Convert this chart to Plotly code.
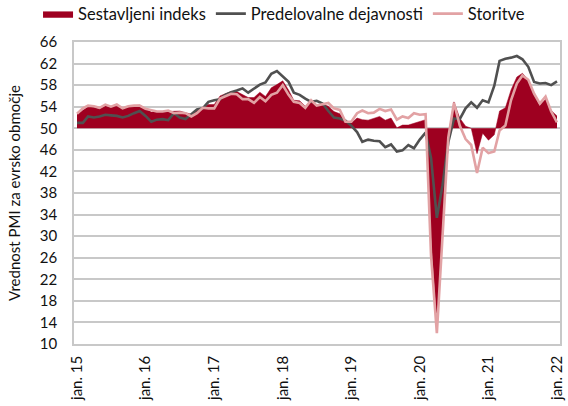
import plotly.graph_objects as go
import pandas as pd

months = pd.date_range("2015-01-01", "2022-01-01", freq="MS").strftime("%Y-%m-%d").tolist()

composite = [
    52.6, 53.3, 54.0, 53.9, 53.6, 54.2, 53.9, 54.3, 53.6, 53.9, 54.2, 54.3,
    53.6, 53.0, 53.1, 53.0, 53.1, 53.1, 53.2, 52.9, 52.6, 53.3, 53.9, 54.4,
    54.4, 56.0, 56.4, 56.8, 56.8, 56.3, 55.7, 55.7, 56.7, 55.9, 57.5, 58.1,
    58.8, 57.1, 55.2, 55.1, 54.1, 54.9, 54.3, 54.5, 54.1, 53.1, 52.7, 51.1,
    51.0, 51.9, 51.6, 51.5, 51.8, 52.2, 51.5, 51.9, 50.1, 50.6, 50.6, 50.9,
    51.3, 51.6, 29.7, 13.6, 31.9, 48.5, 54.9, 51.9, 50.4, 50.0, 45.3, 49.1,
    47.8, 48.8, 53.2, 53.8, 57.1, 59.5, 60.2, 59.0, 56.2, 54.2, 55.4, 53.3,
    52.3,
]
manufacturing = [
    51.0, 51.0, 52.2, 52.0, 52.2, 52.5, 52.4, 52.3, 52.0, 52.3, 52.8, 53.2,
    52.3, 51.2, 51.6, 51.7, 51.5, 52.8, 52.0, 51.7, 52.6, 53.5, 53.7, 54.9,
    55.2, 55.4, 56.2, 56.7, 57.0, 57.4, 56.6, 57.4, 58.1, 58.5, 60.1, 60.6,
    59.6, 58.6, 56.6, 56.2, 55.5, 54.9, 55.1, 54.6, 53.2, 52.0, 51.8, 51.4,
    50.5, 49.3, 47.5, 47.9, 47.7, 47.6, 46.5, 47.0, 45.7, 45.9, 46.9, 46.3,
    47.9, 49.2, 44.5, 33.4, 39.4, 47.4, 51.8, 51.7, 53.7, 54.8, 53.8, 55.2,
    54.8, 57.9, 62.5, 62.9, 63.1, 63.4, 62.8, 61.4, 58.6, 58.3, 58.4, 58.0,
    58.7,
]
services = [
    52.7, 53.7, 54.2, 54.1, 53.8, 54.4, 54.0, 54.4, 53.7, 54.1, 54.2, 54.2,
    53.6, 53.3, 53.1, 53.1, 53.3, 52.8, 52.9, 52.8, 52.2, 52.8, 53.8, 53.7,
    53.7, 55.5, 56.0, 56.4, 56.3, 55.4, 55.4, 54.7, 55.8, 55.0, 56.2, 56.6,
    58.0, 56.2, 54.9, 54.7, 53.8, 55.2, 54.2, 54.4, 54.7, 53.7, 53.4, 51.2,
    51.2, 52.8, 53.3, 52.8, 52.9, 53.6, 53.2, 53.5, 51.6, 52.2, 51.9, 52.8,
    52.5, 52.6, 26.4, 12.0, 30.5, 48.3, 54.7, 50.5, 48.0, 46.9, 41.7, 46.4,
    45.4, 45.7, 49.6, 50.5, 55.2, 58.3, 59.8, 59.0, 56.4, 54.6, 55.9, 53.1,
    51.1,
]
baseline = [50.0] * len(months)

tick_vals = ["2015-01-01", "2016-01-01", "2017-01-01", "2018-01-01",
             "2019-01-01", "2020-01-01", "2021-01-01", "2022-01-01"]
tick_text = ["jan. 15", "jan. 16", "jan. 17", "jan. 18",
             "jan. 19", "jan. 20", "jan. 21", "jan. 22"]
y_ticks = list(range(10, 67, 4))

FONT = "Lato"
RED = "#9E0020"
GREY = "#505050"
PINK = "#E2A2A4"

fig = go.Figure()
fig.add_trace(go.Scatter(x=months, y=baseline, mode="lines",
                         line=dict(width=0, color=RED), showlegend=False,
                         hoverinfo="skip"))
fig.add_trace(go.Scatter(x=months, y=composite, mode="lines", name="Sestavljeni indeks",
                         fill="tonexty", fillcolor=RED, line=dict(width=0.5, color=RED)))
fig.add_trace(go.Scatter(x=months, y=manufacturing, mode="lines", name="Predelovalne dejavnosti",
                         line=dict(width=2.6, color=GREY)))
fig.add_trace(go.Scatter(x=months, y=services, mode="lines", name="Storitve",
                         line=dict(width=2.6, color=PINK)))

fig.update_layout(
    width=568, height=406,
    margin=dict(l=74, r=8, t=42, b=62, autoexpand=False),
    paper_bgcolor="white", plot_bgcolor="white",
    font=dict(family=FONT, size=15, color="#111111"),
    legend=dict(orientation="h", x=-0.074, xanchor="left", y=1.093, yanchor="middle",
                font=dict(size=16.5), traceorder="normal",
                itemwidth=30, tracegroupgap=0, bgcolor="rgba(0,0,0,0)"),
    showlegend=True,
)
fig.update_xaxes(range=["2014-12-16", "2022-01-17"], tickvals=tick_vals, ticktext=tick_text,
                 tickangle=-90, showgrid=False, showline=True, linecolor="#C8C8C8",
                 linewidth=1.5, mirror=True, ticks="", tickfont=dict(size=15),
                 ticklabelstandoff=4, automargin=False)
fig.update_yaxes(range=[10, 66], tickvals=y_ticks, showgrid=True, gridcolor="#C8C8C8",
                 gridwidth=1.5, showline=True, linecolor="#C8C8C8", linewidth=1.5,
                 mirror=True, zeroline=False, ticks="", tickfont=dict(size=15),
                 ticklabelstandoff=12, automargin=False,
                 title=dict(text="Vrednost PMI za evrsko območje", font=dict(size=15), standoff=16))

fig.write_html("out.html", config={"displayModeBar": False},
               post_script="document.body.style.margin='0px';")
